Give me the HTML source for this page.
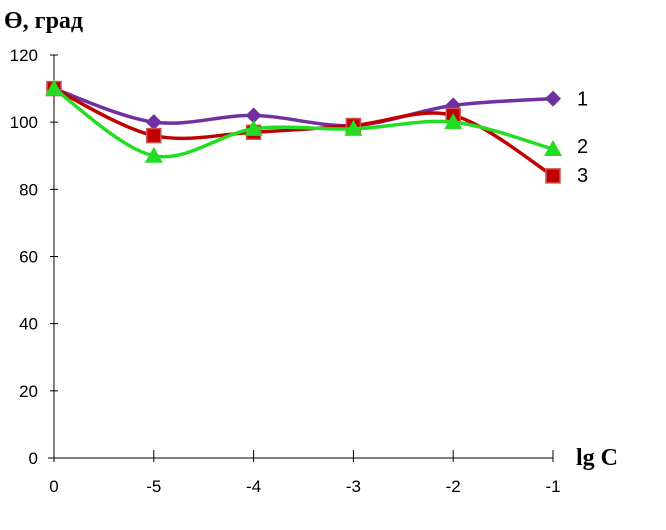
<!DOCTYPE html>
<html><head><meta charset="utf-8"><style>
body{margin:0;background:#fff}
svg{display:block}
text{font-family:"Liberation Sans",sans-serif}
</style></head><body>
<svg id="c" width="666" height="530">
<text x="4" y="28" font-weight="bold" font-size="24" style="font-family:'Liberation Serif',serif">Ө, град</text>
<text x="576" y="465" font-weight="bold" font-size="24" style="font-family:'Liberation Serif',serif">lg C</text>
<g id="axes"></g>
<g id="series"></g>
</svg>
<script>
const categories=["0","-5","-4","-3","-2","-1"];
const yTicks=[0,20,40,60,80,100,120];
const s1=[110,100,102,99,105,107];
const s2=[110,90,98,98,100,92];
const s3=[110,96,97,99,102,84];
const labels=["1","2","3"];
const NS="http://www.w3.org/2000/svg";
const X=i=>54+i*99.8;
const Y=v=>458-v*(403/120);
function el(t,a,p){const e=document.createElementNS(NS,t);for(const k in a)e.setAttribute(k,a[k]);p.appendChild(e);return e;}
const ax=document.getElementById('axes'),sg=document.getElementById('series');
const ya=el('line',{x1:54,y1:Y(120),x2:54,y2:458,stroke:'#000','stroke-width':1},ax);


const xa=el('line',{x1:48,y1:458,x2:X(5),y2:458,stroke:'#000','stroke-width':1},ax);


yTicks.forEach(v=>{el('line',{x1:50,x2:58,y1:Y(v),y2:Y(v),stroke:'#000'},ax);
const t=el('text',{x:38,y:Y(v)+6,'text-anchor':'end','font-size':17},ax);t.textContent=v;

});
categories.forEach((c,i)=>{el('line',{x1:X(i),x2:X(i),y1:450,y2:462,stroke:'#000'},ax);
const t=el('text',{x:X(i),y:492,'text-anchor':'middle','font-size':17},ax);t.textContent=c;

});
function path(d){const p=d.map((v,i)=>[X(i),Y(v)]);let s=`M${p[0][0]},${p[0][1]}`;
for(let i=0;i<p.length-1;i++){const p0=p[i-1]||p[i],p1=p[i],p2=p[i+1],p3=p[i+2]||p2;
const c1=[p1[0]+(p2[0]-p0[0])/6,p1[1]+(p2[1]-p0[1])/6],c2=[p2[0]-(p3[0]-p1[0])/6,p2[1]-(p3[1]-p1[1])/6];
s+=`C${c1[0]},${c1[1]} ${c2[0]},${c2[1]} ${p2[0]},${p2[1]}`;}return s;}
const defs=[[s1,'#7030a0','diamond','series-1'],[s3,'#c00000','square','series-3'],[s2,'#22dd22','triangle','series-2']];
defs.forEach(([d,col,m,n])=>{
const p=el('path',{d:path(d),fill:'none',stroke:col,'stroke-width':3.5},sg);


d.forEach((v,i)=>{const x=X(i),y=Y(v);let e;
if(m=='diamond')e=el('polygon',{points:`${x},${y-8} ${x+8},${y} ${x},${y+8} ${x-8},${y}`,fill:col},sg);
else if(m=='square')e=el('rect',{x:x-7,y:y-7,width:14,height:14,fill:col,stroke:'#d05050','stroke-width':1.5},sg);
else e=el('polygon',{points:`${x},${y-9} ${x+9},${y+7} ${x-9},${y+7}`,fill:col},sg);

});});
[[s1,0],[s2,1],[s3,2]].forEach(([d,k])=>{const y=Y(d[5])+(k==2?6:k==1?4:7);
const t=el('text',{x:577,y:y,'font-size':20},sg);t.textContent=labels[k];

});
</script>
</body></html>
